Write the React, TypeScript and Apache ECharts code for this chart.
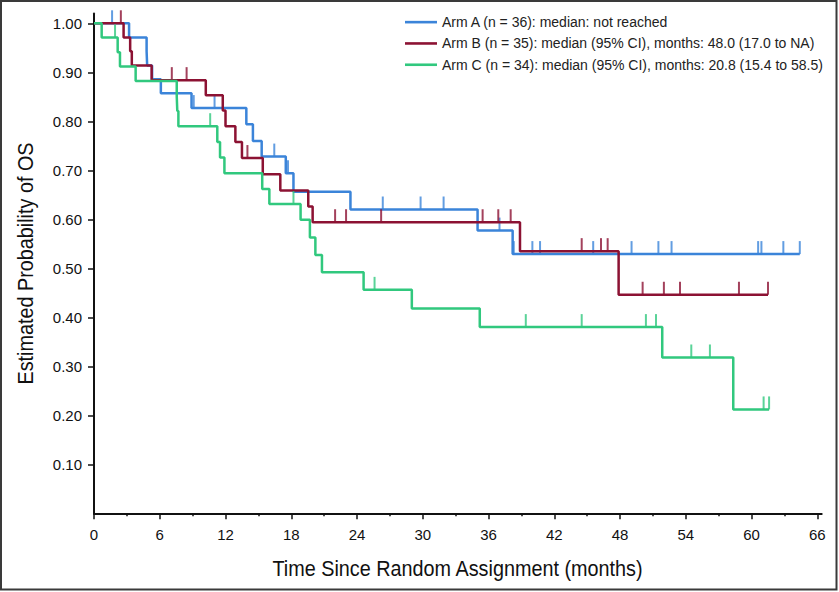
import React, { useEffect, useRef } from "react";
import * as echarts from "echarts";

// ---- Data ----
const armANames = "Arm A (n = 36): median: not reached";
const armBNames = "Arm B (n = 35): median (95% CI), months: 48.0 (17.0 to NA)";
const armCNames = "Arm C (n = 34): median (95% CI), months: 20.8 (15.4 to 58.5)";

const armATimes = [0, 3.2, 4.8, 4.85, 5.3, 6.1, 8.9, 13.9, 14.5, 15.3, 17.5, 18.2, 23.4, 35.0, 38.2, 64.4];
const armASurv = [1, 0.971, 0.943, 0.914, 0.886, 0.857, 0.827, 0.794, 0.760, 0.728, 0.694, 0.656, 0.620, 0.577, 0.529, 0.529];
const armACensor = [1.65, 9.1, 11.0, 16.45, 17.7, 26.35, 29.8, 31.9, 37.0, 38.3, 40.0, 40.7, 45.55, 49.05, 51.5, 52.7, 60.6, 60.9, 62.9, 64.4];

const armBTimes = [0, 2.7, 3.3, 3.45, 5.26, 10.2, 11.75, 12.0, 12.9, 13.5, 15.4, 17.0, 19.55, 19.95, 38.87, 47.87, 61.5];
const armBSurv = [1, 0.971, 0.943, 0.914, 0.884, 0.853, 0.822, 0.790, 0.758, 0.725, 0.692, 0.659, 0.626, 0.594, 0.535, 0.446, 0.446];
const armBCensor = [2.45, 7.1, 8.45, 14.0, 22.0, 23.0, 26.2, 35.46, 36.89, 38.02, 44.5, 46.26, 46.87, 50.06, 52.0, 53.47, 58.85, 61.5];

const armCTimes = [0, 0.7, 2.16, 2.37, 3.8, 7.55, 7.6, 7.7, 11.25, 11.5, 11.9, 15.35, 16.0, 18.85, 19.7, 20.2, 20.8, 24.6, 29.0, 35.2, 51.85, 58.33, 61.6];
const armCSurv = [1, 0.971, 0.941, 0.912, 0.882, 0.851, 0.821, 0.790, 0.758, 0.726, 0.694, 0.662, 0.631, 0.599, 0.563, 0.527, 0.492, 0.456, 0.418, 0.380, 0.318, 0.212, 0.212];
const armCCensor = [1.92, 10.6, 18.2, 25.6, 39.4, 44.5, 50.36, 51.28, 54.5, 56.2, 61.1, 61.6];

const xMajorTicks = [0, 6, 12, 18, 24, 30, 36, 42, 48, 54, 60, 66];
const xMinorTicks = [3, 9, 15, 21, 27, 33, 39, 45, 51, 57, 63];
const yTicks = [0.1, 0.2, 0.3, 0.4, 0.5, 0.6, 0.7, 0.8, 0.9, 1.0];

const xTitle = "Time Since Random Assignment (months)";
const yTitle = "Estimated Probability of OS";

const colorA = "#3b84d9";
const colorB = "#8c1233";
const colorC = "#31c87e";

function stepData(times: number[], surv: number[]) {
  return times.map((t, i) => [t, surv[i]]);
}
function censorData(times: number[], surv: number[], cens: number[]) {
  return cens.map((c) => {
    let s = surv[0];
    for (let i = 0; i < times.length; i++) {
      if (times[i] <= c) s = surv[i];
    }
    return [c, s];
  });
}

const axisFont = "'Liberation Sans', Arial, sans-serif";

export default function App() {
  const ref = useRef<HTMLDivElement>(null);
  useEffect(() => {
    document.body.style.margin = "0";
    if (!ref.current) return;
    const chart = echarts.init(ref.current, null, { renderer: "svg" });
    const arms = [
      { name: armANames, t: armATimes, s: armASurv, c: armACensor, color: colorA },
      { name: armBNames, t: armBTimes, s: armBSurv, c: armBCensor, color: colorB },
      { name: armCNames, t: armCTimes, s: armCSurv, c: armCCensor, color: colorC },
    ];
    const series: any[] = [];
    arms.forEach((a, i) => {
      series.push({
        name: a.name,
        type: "line",
        step: "end",
        symbol: "none",
        data: stepData(a.t, a.s),
        lineStyle: { color: a.color, width: 2.5 },
        itemStyle: { color: a.color },
        z: 2 + i,
        clip: false,
      });
    });
    arms.forEach((a, i) => {
      series.push({
        name: a.name + " censored",
        type: "scatter",
        symbol: "rect",
        symbolSize: [2, 13],
        symbolOffset: [0, -6.5],
        data: censorData(a.t, a.s, a.c),
        itemStyle: { color: a.color },
        z: 2 + i,
        clip: false,
        silent: true,
      });
    });
    chart.setOption({
      animation: false,
      backgroundColor: "#ffffff",
      grid: { left: 94, right: 17.3, top: 13.5, bottom: 78.7, containLabel: false },
      legend: {
        data: [armANames, armBNames, armCNames],
        orient: "vertical",
        left: 400,
        top: 6.5,
        icon: "rect",
        itemWidth: 32,
        itemHeight: 2.6,
        itemGap: 0,
        textStyle: { fontFamily: axisFont, fontSize: 14, color: "#222", lineHeight: 21.3 },
        selectedMode: false,
      },
      xAxis: [
        {
          type: "value",
          min: 0,
          max: 66.4,
          position: "bottom",
          axisLine: { show: true, lineStyle: { color: "#111", width: 2 } },
          axisTick: { show: true, customValues: xMajorTicks, length: 6, lineStyle: { color: "#111", width: 1.5 } },
          axisLabel: {
            customValues: xMajorTicks,
            fontFamily: axisFont,
            fontSize: 15,
            color: "#111",
            margin: 14,
          },
          splitLine: { show: false },
        },
        {
          type: "value",
          min: 0,
          max: 66.4,
          position: "bottom",
          axisLine: { show: false },
          axisTick: { show: true, customValues: xMinorTicks, length: 3, lineStyle: { color: "#111", width: 1.5 } },
          axisLabel: { show: false },
          splitLine: { show: false },
        },
      ],
      yAxis: {
        type: "value",
        min: 0,
        max: 1.02,
        axisLine: { show: true, lineStyle: { color: "#111", width: 2 } },
        axisTick: { show: true, customValues: yTicks, length: 6, lineStyle: { color: "#111", width: 1.5 } },
        axisLabel: {
          customValues: yTicks,
          formatter: (v: number) => v.toFixed(2),
          fontFamily: axisFont,
          fontSize: 15,
          color: "#111",
          margin: 12,
        },
        splitLine: { show: false },
      },
      graphic: [
        {
          type: "rect",
          shape: { x: 1, y: 1, width: 835.5, height: 588.5 },
          style: { fill: "none", stroke: "#3a3a3a", lineWidth: 2 },
          silent: true,
        },
        {
          type: "text",
          x: 457.5,
          y: 568,
          scaleX: 0.88,
          style: {
            text: xTitle,
            fontFamily: axisFont,
            fontSize: 22.5,
            fill: "#111",
            align: "center",
            verticalAlign: "middle",
          },
          silent: true,
        },
        {
          type: "text",
          x: 25,
          y: 263.5,
          rotation: Math.PI / 2,
          scaleX: 0.88,
          style: {
            text: yTitle,
            fontFamily: axisFont,
            fontSize: 22.5,
            fill: "#111",
            align: "center",
            verticalAlign: "middle",
          },
          silent: true,
        },
      ],
      series,
    });
    return () => chart.dispose();
  }, []);
  return <div ref={ref} style={{ width: 839, height: 592 }} />;
}
